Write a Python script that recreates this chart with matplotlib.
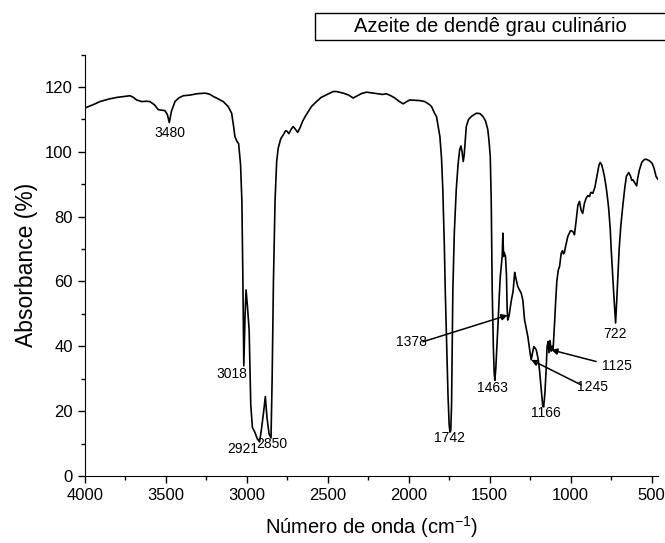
import matplotlib
matplotlib.use("Agg")
import matplotlib.pyplot as plt
from matplotlib.patches import Rectangle
from matplotlib.ticker import MultipleLocator

plt.rcParams['font.family'] = ['Liberation Sans', 'DejaVu Sans']
plt.rcParams['mathtext.fontset'] = 'custom'
plt.rcParams['mathtext.rm'] = 'Liberation Sans'
plt.rcParams['mathtext.it'] = 'Liberation Sans'

wavenumber = [4000, 3950, 3906, 3850, 3800, 3750, 3721, 3700, 3680, 3649, 3620, 3598, 3570, 3546,
              3520, 3505, 3490, 3478, 3465, 3443, 3420, 3392, 3350, 3309, 3258, 3230, 3207, 3175,
              3145, 3115, 3093, 3080, 3073, 3060, 3050, 3038, 3030, 3024, 3018, 3010, 3004, 2995,
              2985, 2975, 2965, 2950, 2935, 2921, 2910, 2895, 2885, 2875, 2862, 2850, 2843, 2835,
              2825, 2815, 2806, 2790, 2775, 2760, 2750, 2740, 2725, 2713, 2700, 2685, 2670, 2655,
              2640, 2620, 2600, 2569, 2540, 2507, 2466, 2445, 2404, 2370, 2343, 2320, 2290, 2260,
              2230, 2188, 2160, 2137, 2110, 2085, 2060, 2034, 2015, 1993, 1960, 1931, 1900, 1870,
              1859, 1840, 1828, 1815, 1807, 1797, 1789, 1780, 1774, 1765, 1757, 1750, 1745, 1740,
              1735, 1727, 1718, 1706, 1695, 1685, 1677, 1670, 1663, 1657, 1650, 1644, 1630, 1613,
              1582, 1560, 1541, 1525, 1511, 1503, 1496, 1490, 1484, 1477, 1472, 1468, 1462, 1455,
              1447, 1440, 1434, 1428, 1422, 1418, 1414, 1410, 1402, 1396, 1392, 1388, 1382, 1378,
              1367, 1355, 1345, 1338, 1326, 1305, 1295, 1284, 1264, 1250, 1243, 1235, 1227, 1220,
              1212, 1200, 1192, 1182, 1172, 1166, 1158, 1151, 1145, 1138, 1133, 1127, 1120, 1114,
              1108, 1099, 1092, 1085, 1076, 1068, 1058, 1050, 1044, 1038, 1030, 1017, 1000, 986,
              976, 965, 955, 945, 935, 925, 915, 904, 893, 883, 875, 863, 850, 835, 825, 817, 808,
              800, 791, 780, 770, 764, 755, 749, 740, 732, 722, 715, 709, 700, 690, 678, 665, 655,
              641, 630, 622, 616, 605, 592, 585, 575, 560, 545, 533, 515, 497, 485, 472, 462]
absorbance = [113.5, 114.5, 115.5, 116.3, 116.8, 117.1, 117.3, 116.8, 116.0, 115.5, 115.6, 115.5, 114.5, 113.0,
              112.8, 112.7, 111.5, 109.0, 112.5, 115.5, 116.6, 117.3, 117.5, 117.9, 118.1, 117.8, 117.1, 116.3,
              115.5, 114.0, 111.9, 107.5, 104.7, 103.2, 102.5, 96, 85, 62, 34, 50, 57.4, 52,
              45, 22, 15, 13.5, 11.5, 10.5, 14, 20, 24.5, 18, 13, 11.7, 30, 60,
              85, 97, 101, 104, 105.2, 106.5, 106.3, 105.6, 107, 107.8, 107, 106, 107.5, 109.4,
              110.8, 112.4, 114, 115.5, 116.8, 117.6, 118.6, 118.6, 118.1, 117.5, 116.6, 117.2, 118.0, 118.4,
              118.2, 117.9, 117.7, 117.9, 117.3, 116.6, 115.6, 114.8, 115.4, 116.0, 115.9, 115.8, 115.5, 114.5,
              114.0, 111.9, 110.9, 107, 104.7, 98, 88.3, 72, 57.4, 40, 25, 16, 13.5, 14,
              22, 57.4, 75, 88.3, 96, 100.6, 101.8, 100, 97, 99, 104, 107.8, 110, 110.9,
              111.9, 111.8, 110.9, 109.5, 106.8, 103, 98.6, 85, 57.4, 40, 32, 29.5, 33, 40,
              48, 56, 61.5, 64.6, 68, 74.9, 67.7, 69, 67.7, 62, 52, 48.1, 49, 50,
              53.8, 57, 62.8, 61, 58.4, 56.4, 54.3, 48.1, 43, 38, 35.8, 38, 39.9, 39.5,
              38.9, 36, 32.7, 27, 21.6, 21.3, 26, 32.7, 40, 41.5, 38, 41.8, 38.5, 40,
              39, 47, 54, 60, 63.5, 64.6, 68.7, 69.5, 68.5, 69, 71, 73.9, 75.7, 75.4,
              74.4, 79, 83.5, 84.7, 82, 81, 84, 85.7, 86.5, 86.2, 87.5, 87.2, 89, 93, 95.8, 96.7, 96,
              94.5, 92.4, 89, 85, 82.1, 76, 69.8, 62, 55, 47.2, 54, 60.5, 70, 77, 83.1, 89, 92.5,
              93.6, 92.5, 91.2, 91.4, 90.5, 89.5, 92, 94.4, 96.8, 97.6, 97.7, 97.3, 96.5, 95, 92.4, 91.6]

# peak labels: text, x, y
peak_labels = ["3480", "3018", "2921", "2850", "1742", "1463", "1166", "722"]
peak_x = [3474, 3092, 3024, 2845, 1747, 1482, 1155, 723]
peak_y = [105.8, 31.5, 8.3, 9.9, 11.7, 27.2, 19.4, 43.8]

# arrow annotations: text, text position, arrow tip
arrow_labels = ["1378", "1245", "1125"]
arrow_text_x = [1982, 865, 715]
arrow_text_y = [41.4, 27.5, 34.0]
arrow_start_x = [1912, 935, 842]
arrow_start_y = [41.4, 28.1, 35.3]
arrow_tip_x = [1388, 1243, 1120]
arrow_tip_y = [49.6, 35.8, 38.9]

title_text = "Azeite de dendê grau culinário"

fig = plt.figure(figsize=(6.65, 5.43), dpi=100)
ax = fig.add_axes([0.1275, 0.1235, 0.862, 0.776])
ax.plot(wavenumber, absorbance, color='black', lw=1.2)
ax.set_xlim(4000, 460)
ax.set_ylim(0, 130)
ax.spines['top'].set_visible(False)
ax.spines['right'].set_visible(False)
ax.xaxis.set_major_locator(MultipleLocator(500))
ax.xaxis.set_minor_locator(MultipleLocator(250))
ax.yaxis.set_major_locator(MultipleLocator(20))
ax.yaxis.set_minor_locator(MultipleLocator(10))
ax.tick_params(which='major', direction='out', length=5, width=1, labelsize=12)
ax.tick_params(which='minor', direction='out', length=3, width=1)
ax.set_yticks([0, 20, 40, 60, 80, 100, 120])
ax.set_xlabel(r'Número de onda (cm$^{\mathregular{-1}}$)', fontsize=14.5, labelpad=8)
ax.set_ylabel('Absorbance (%)', fontsize=16.5, labelpad=5)

for t, x, y in zip(peak_labels, peak_x, peak_y):
    ax.text(x, y, t, fontsize=10, ha='center', va='center')

for t, tx, ty, sx, sy, ex, ey in zip(arrow_labels, arrow_text_x, arrow_text_y,
                                     arrow_start_x, arrow_start_y, arrow_tip_x, arrow_tip_y):
    ax.text(tx, ty, t, fontsize=10, ha='center', va='center')
    ax.annotate('', xy=(ex, ey), xytext=(sx, sy),
                arrowprops=dict(arrowstyle='-|>', color='black', lw=1.1,
                                mutation_scale=9, shrinkA=0, shrinkB=0))

fig.patches.append(Rectangle((0.474, 0.926), 0.6, 0.050, transform=fig.transFigure,
                             fill=False, edgecolor='black', lw=1.0))
fig.text(0.737, 0.951, title_text, fontsize=14.5, ha='center', va='center')

fig.savefig('out.png', dpi=100)
